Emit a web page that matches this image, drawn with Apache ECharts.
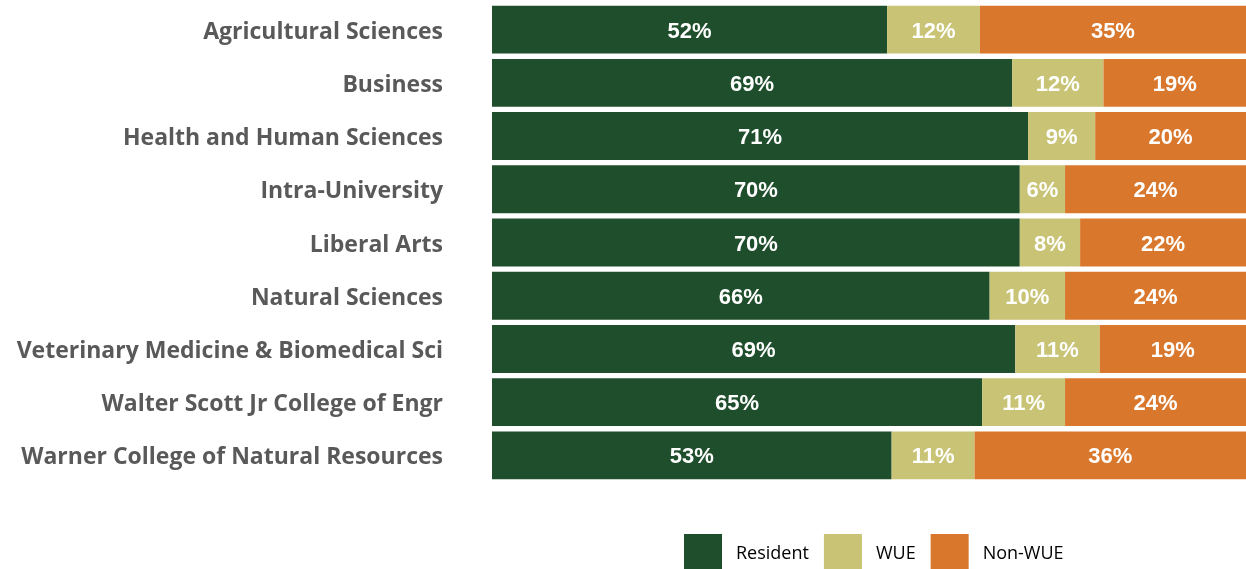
<!DOCTYPE html>
<html>
<head>
<meta charset="utf-8">
<script src="https://cdn.jsdelivr.net/npm/echarts@6/dist/echarts.min.js"></script>
<style>
  html, body { margin: 0; padding: 0; background: #fff; }
  #chart { width: 1246px; height: 569px; }
</style>
</head>
<body>
<div id="chart"></div>
<script>
// colleges, top to bottom
const colleges = [
    'Agricultural Sciences',
    'Business',
    'Health and Human Sciences',
    'Intra-University',
    'Liberal Arts',
    'Natural Sciences',
    'Veterinary Medicine & Biomedical Sci',
    'Walter Scott Jr College of Engr',
    'Warner College of Natural Resources'
]
// share of students, percent
const resident = [52.4, 69.0, 71.1, 70.0, 70.0, 66.0, 69.4, 65.0, 53.0]
const wue      = [12.3, 12.1, 8.9, 6.0, 8.0, 10.0, 11.2, 11.0, 11.0]
const nonWue   = [35.3, 18.9, 20.0, 24.0, 22.0, 24.0, 19.4, 24.0, 36.0]

const seriesNames = ['Resident', 'WUE', 'Non-WUE']
const colors = ['#1F4E2C', '#C8C375', '#D9782D']

const chart = echarts.init(document.getElementById('chart'))

const makeSeries = (name, data, color) => ({
    name: name,
    type: 'bar',
    stack: 'total',
    barCategoryGap: '10%',
    itemStyle: { color: color },
    label: {
        show: true,
        position: 'inside',
        offset: [0, 2],
        color: '#fff',
        fontFamily: 'Liberation Sans',
        fontWeight: 'bold',
        fontSize: 22,
        formatter: p => Math.round(p.value) + '%'
    },
    emphasis: { disabled: true },
    data: data
})

chart.setOption({
    animation: false,
    grid: { left: 492, right: 0, top: 3, bottom: 87, containLabel: false },
    legend: {
        top: 534,
        left: 684,
        padding: 0,
        itemWidth: 38,
        itemHeight: 35,
        itemGap: 15,
        icon: 'rect',
        textStyle: {
            rich: {
                t: { fontFamily: 'Open Sans', fontSize: 18, color: '#000', padding: [4, 0, 0, 9] }
            }
        },
        formatter: n => '{t|' + n + '}',
        data: seriesNames
    },
    xAxis: {
        type: 'value',
        min: 0,
        max: 100,
        show: false
    },
    yAxis: {
        type: 'category',
        inverse: true,
        data: colleges,
        axisLine: { show: false },
        axisTick: { show: false },
        axisLabel: {
            margin: 49,
            formatter: v => '{c|' + v + '}',
            rich: {
                c: {
                    color: '#595959',
                    fontFamily: 'Open Sans',
                    fontWeight: 'bold',
                    fontSize: 23,
                    padding: [5, 0, 0, 0]
                }
            }
        }
    },
    series: [
        makeSeries(seriesNames[0], resident, colors[0]),
        makeSeries(seriesNames[1], wue, colors[1]),
        makeSeries(seriesNames[2], nonWue, colors[2])
    ]
})
</script>
</body>
</html>
